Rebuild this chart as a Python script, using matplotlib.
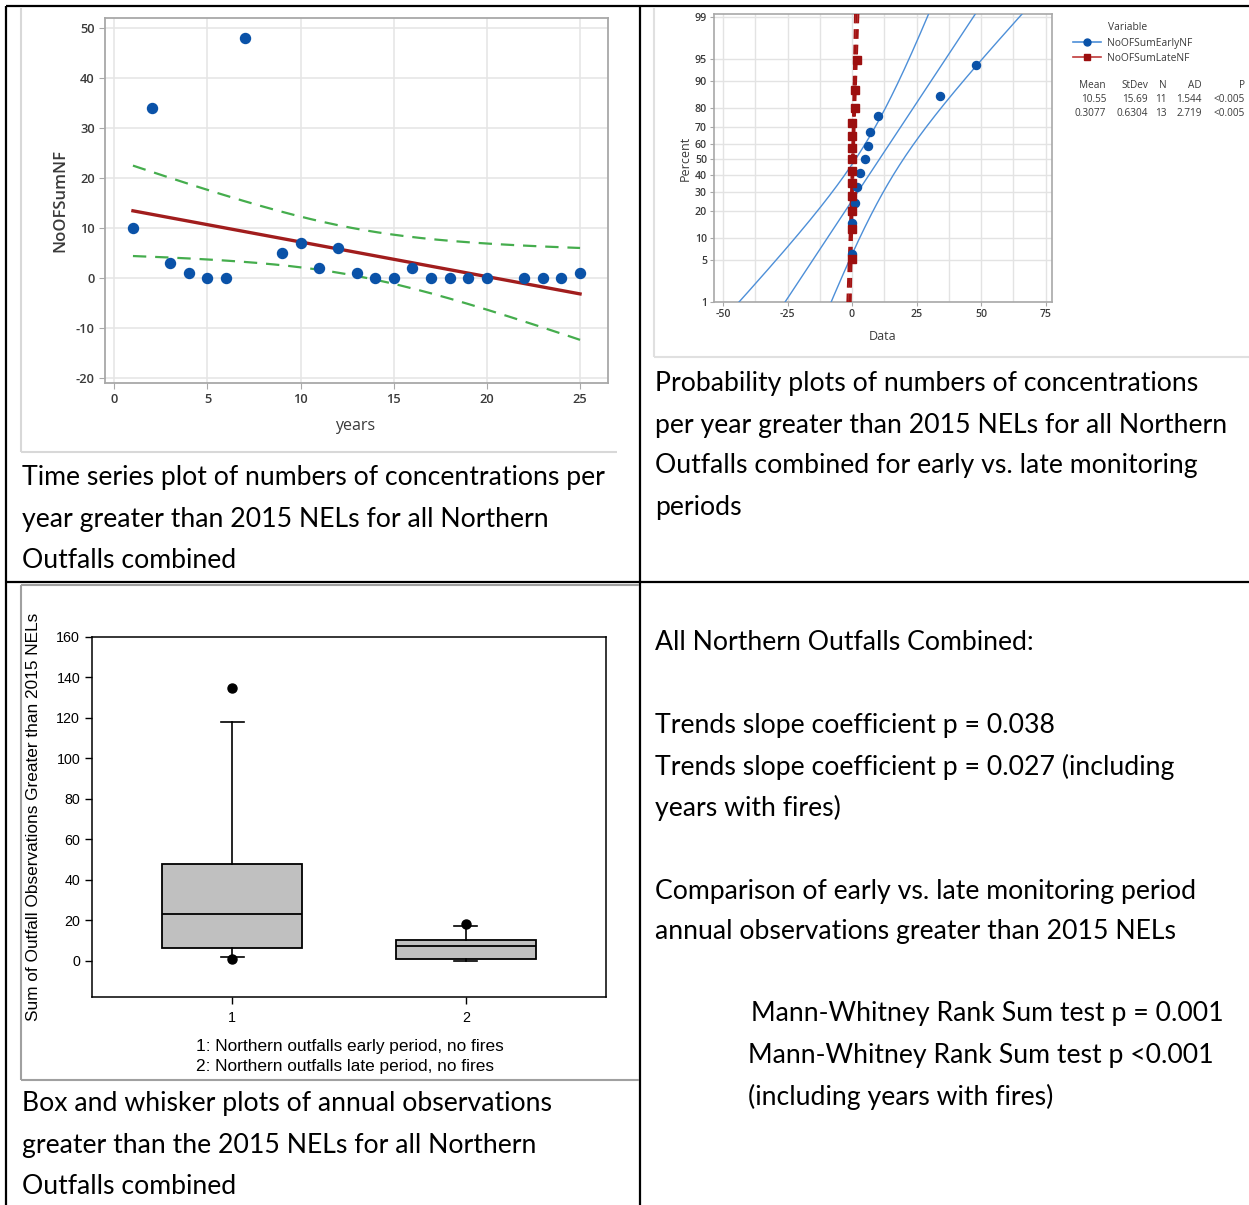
import numpy as np
import matplotlib
matplotlib.use("Agg")
import matplotlib.pyplot as plt
from matplotlib.lines import Line2D
from statistics import NormalDist

plt.rcParams["axes.unicode_minus"] = False

# ---------------- data ----------------
# annual counts above 2015 NELs, all northern outfalls (no-fire years)
years = [1, 2, 3, 4, 5, 6, 7, 9, 10, 11, 12, 13, 14, 15, 16, 17, 18, 19, 20, 22, 23, 24, 25]
no_of_sum_nf = [10, 34, 3, 1, 0, 0, 48, 5, 7, 2, 6, 1, 0, 0, 2, 0, 0, 0, 0, 0, 0, 0, 1]

# early / late monitoring periods used in the probability plot
early_nf = [10, 34, 3, 1, 0, 0, 48, 5, 7, 2, 6]
late_nf = [1, 0, 0, 2, 0, 0, 0, 0, 0, 0, 0, 0, 1]
series_names = ["NoOFSumEarlyNF", "NoOFSumLateNF"]

# summary table printed next to the probability plot
stat_cols = ["Mean", "StDev", "N", "AD", "P"]
early_stats = ["10.55", "15.69", "11", "1.544", "<0.005"]
late_stats = ["0.3077", "0.6304", "13", "2.719", "<0.005"]

# box plot summaries (sum of outfall observations above 2015 NELs)
box_labels = ["1", "2"]
box_q1 = [6, 1]
box_med = [23, 7]
box_q3 = [48, 10]
box_whislo = [2, 0]
box_whishi = [118, 17]
box_fliers = [[135, 1], [18]]

percent_ticks = [1, 5, 10, 20, 30, 40, 50, 60, 70, 80, 90, 95, 99]

# ---------------- figure helpers ----------------
W, H = 1249, 1205
fig = plt.figure(figsize=(W / 100, H / 100), dpi=100)
fig.patch.set_facecolor("white")


def fx(x):
    return x / W


def fy(y):
    return 1 - y / H


def rect(l, t, r, b):
    return [fx(l), fy(b), fx(r) - fx(l), fy(t) - fy(b)]


def seg(x0, y0, x1, y1, color="black", lw=1.6):
    fig.add_artist(Line2D([fx(x0), fx(x1)], [fy(y0), fy(y1)],
                          transform=fig.transFigure, color=color, lw=lw,
                          solid_capstyle="butt"))


CAP_FONT = ["Lato", "DejaVu Sans"]
MT_FONT = ["Open Sans", "DejaVu Sans"]
SP_FONT = ["Liberation Sans", "DejaVu Sans"]
CAP_SIZE = 19.2


def caption(x, y, s, size=CAP_SIZE):
    fig.text(fx(x), fy(y), s, family=CAP_FONT, fontsize=size,
             ha="left", va="center", color="black")


# ---------------- table rules and picture frames ----------------
seg(6, 6, W, 6)
seg(6, 6, 6, H)
seg(640, 6, 640, H)
seg(6, 582, W, 582)

seg(21, 8, 21, 452, color="#d8d8d8", lw=1.5)
seg(21, 452, 617, 452, color="#d8d8d8", lw=1.5)
seg(654, 8, 654, 357, color="#e0e0e0", lw=1.5)
seg(654, 357, W, 357, color="#e0e0e0", lw=1.5)
seg(21, 585, 21, 1080, color="#a0a0a0", lw=1.5)
seg(21, 585, 639, 585, color="#a0a0a0", lw=1.5)
seg(21, 1080, 639, 1080, color="#a0a0a0", lw=1.5)

# ---------------- time series with fitted line ----------------
ax1 = fig.add_axes(rect(105, 18, 608, 383))
x = np.array(years, float)
y = np.array(no_of_sum_nf, float)
slope, icpt = np.polyfit(x, y, 1)
n = len(x)
s_res = np.sqrt(np.sum((y - (slope * x + icpt)) ** 2) / (n - 2))
sxx = np.sum((x - x.mean()) ** 2)
t975 = 2.080  # Student t, 21 df
xf = np.linspace(x.min(), x.max(), 200)
fit = slope * xf + icpt
half = t975 * s_res * np.sqrt(1 / n + (xf - x.mean()) ** 2 / sxx)

ax1.plot(xf, fit, color="#a11d1d", lw=2.4, zorder=3)
ax1.plot(xf, fit + half, color="#45ad4d", lw=1.6, ls=(0, (6, 4)), zorder=3)
ax1.plot(xf, fit - half, color="#45ad4d", lw=1.6, ls=(0, (6, 4)), zorder=3)
ax1.plot(x, y, ls="none", marker="o", ms=7.2, color="#0a52a8", zorder=4)

ax1.set_xlim(-0.5, 26.5)
ax1.set_ylim(-21, 52)
ax1.set_xticks(range(0, 26, 5))
ax1.set_yticks(range(-20, 51, 10))
ax1.grid(True, color="#e6e6e6", lw=1.2)
ax1.set_axisbelow(True)
for sp in ax1.spines.values():
    sp.set_color("#a8a8a8")
    sp.set_linewidth(1.3)
ax1.tick_params(length=4, color="#a8a8a8", labelcolor="#3a3a3a", labelsize=9.3)
for lab in ax1.get_xticklabels() + ax1.get_yticklabels():
    lab.set_family(MT_FONT)
    lab.set_fontweight("semibold")
fig.text(fx(60), fy(200), "NoOFSumNF", rotation=90, ha="center", va="center",
         family=MT_FONT, fontsize=12, color="#3a3a3a", fontweight="semibold")
fig.text(fx(355), fy(426), "years", ha="center", va="center",
         family=MT_FONT, fontsize=11.5, color="#3a3a3a")

caption(22, 478, "Time series plot of numbers of concentrations per")
caption(22, 519, "year greater than 2015 NELs for all Northern")
caption(22, 560, "Outfalls combined")

# ---------------- normal probability plot ----------------
nd = NormalDist()


def p_to_z(p):
    p = np.clip(np.asarray(p, float), 1e-6, 100 - 1e-6)
    return np.array([nd.inv_cdf(v / 100) for v in p.ravel()]).reshape(p.shape)


def z_to_p(z):
    z = np.asarray(z, float)
    return np.array([nd.cdf(v) * 100 for v in z.ravel()]).reshape(z.shape)


ax2 = fig.add_axes(rect(714, 14, 1052, 302))
ax2.set_yscale("function", functions=(p_to_z, z_to_p))

zline = np.linspace(-2.6, 2.6, 200)
pline = z_to_p(zline)
styles = [
    dict(line="#4d8fd8", pt="#0a52a8", marker="o", ls="-", lw=1.0),
    dict(line="#a31212", pt="#9c0f0f", marker="s", ls=(0, (5, 3)), lw=1.4),
]
for vals, st in zip([early_nf, late_nf], styles):
    v = np.sort(np.array(vals, float))
    m = len(v)
    mu, sd = v.mean(), v.std(ddof=1)
    ranks = (np.arange(1, m + 1) - 0.3) / (m + 0.4) * 100
    xfit = mu + zline * sd
    hw = 1.96 * sd * np.sqrt(1 / m + zline ** 2 / (2 * m))
    for xx in (xfit, xfit - hw, xfit + hw):
        ax2.plot(xx, pline, color=st["line"], ls=st["ls"], lw=st["lw"], zorder=3)
    ax2.plot(v, ranks, ls="none", marker=st["marker"], ms=5.8,
             color=st["pt"], zorder=4)

ax2.set_xlim(-53.5, 77.5)
ax2.set_ylim(1, 99.12)
ax2.set_xticks(range(-50, 76, 25))
ax2.set_xticks(np.arange(-50, 76, 12.5), minor=True)
ax2.set_yticks(percent_ticks)
ax2.set_yticklabels([str(p) for p in percent_ticks])
ax2.yaxis.set_minor_locator(matplotlib.ticker.NullLocator())
ax2.grid(True, which="both", color="#e3e3e3", lw=1.0)
ax2.set_axisbelow(True)
for sp in ax2.spines.values():
    sp.set_color("#a8a8a8")
    sp.set_linewidth(1.2)
ax2.tick_params(which="major", length=3, color="#a8a8a8", labelcolor="#3a3a3a",
                labelsize=7.6, pad=2)
ax2.tick_params(which="minor", length=0)
for lab in ax2.get_xticklabels() + ax2.get_yticklabels():
    lab.set_family(MT_FONT)
    lab.set_fontweight("semibold")
fig.text(fx(685), fy(158), "Percent", rotation=90, ha="center", va="center",
         family=MT_FONT, fontsize=9, color="#3a3a3a")
fig.text(fx(883), fy(336), "Data", ha="center", va="center",
         family=MT_FONT, fontsize=9, color="#3a3a3a")

# legend and summary table
fig.text(fx(1108), fy(27), "Variable", ha="left", va="center",
         family=MT_FONT, fontsize=7.4, color="#3a3a3a")
handles = [
    Line2D([], [], color="#4d8fd8", lw=1.2, marker="o", ms=5, mfc="#0a52a8", mec="#0a52a8"),
    Line2D([], [], color="#c03a3a", lw=1.2, marker="s", ms=5, mfc="#9c0f0f", mec="#9c0f0f"),
]
leg = fig.legend(handles, series_names, loc="upper left",
                 bbox_to_anchor=(fx(1073), fy(38)), frameon=False,
                 prop=dict(family=MT_FONT, size=7.4), handlelength=2.7,
                 handletextpad=0.6, labelspacing=0.35, borderpad=0, borderaxespad=0)
for t in leg.get_texts():
    t.set_color("#3a3a3a")

col_right = [1106, 1148, 1167, 1202, 1245]
for row_y, row in zip([85, 100, 114], [stat_cols, early_stats, late_stats]):
    for cx, txt in zip(col_right, row):
        fig.text(fx(cx), fy(row_y), txt, ha="right", va="center",
                 family=MT_FONT, fontsize=7.2, color="#3a3a3a")

caption(655, 384, "Probability plots of numbers of concentrations")
caption(655, 425, "per year greater than 2015 NELs for all Northern")
caption(655, 466, "Outfalls combined for early vs. late monitoring")
caption(655, 507, "periods")

# ---------------- box plot ----------------
ax3 = fig.add_axes(rect(92, 637, 606, 997))
stats = [dict(label=lab, q1=a, med=b, q3=c, whislo=d, whishi=e, fliers=f)
         for lab, a, b, c, d, e, f in zip(box_labels, box_q1, box_med, box_q3,
                                          box_whislo, box_whishi, box_fliers)]
ax3.bxp(stats, positions=[1, 2], widths=0.6, capwidths=0.1, patch_artist=True,
        boxprops=dict(facecolor="#c0c0c0", edgecolor="black", lw=1.3),
        medianprops=dict(color="black", lw=1.3),
        whiskerprops=dict(color="black", lw=1.2),
        capprops=dict(color="black", lw=1.2),
        flierprops=dict(marker="o", mfc="black", mec="black", ms=6.5))
ax3.set_xlim(0.4, 2.6)
ax3.set_ylim(-18, 160)
ax3.set_yticks(range(0, 161, 20))
ax3.tick_params(axis="both", direction="out", length=5, width=1, labelsize=10.3,
                top=False, right=False)
ax3.tick_params(axis="x", pad=5)
for lab in ax3.get_xticklabels() + ax3.get_yticklabels():
    lab.set_family(SP_FONT)
for sp in ax3.spines.values():
    sp.set_linewidth(1.1)
fig.text(fx(34), fy(817), "Sum of Outfall Observations Greater than 2015 NELs",
         rotation=90, ha="center", va="center", family=SP_FONT, fontsize=12.4)
fig.text(fx(196), fy(1047), "1: Northern outfalls early period, no fires",
         ha="left", va="center", family=SP_FONT, fontsize=12.4)
fig.text(fx(196), fy(1067), "2: Northern outfalls late period, no fires",
         ha="left", va="center", family=SP_FONT, fontsize=12.4)

caption(22, 1104, "Box and whisker plots of annual observations")
caption(22, 1146, "greater than the 2015 NELs for all Northern")
caption(22, 1187, "Outfalls combined")

# ---------------- test results text ----------------
caption(655, 643, "All Northern Outfalls Combined:")
caption(655, 726, "Trends slope coefficient p = 0.038")
caption(655, 767, "Trends slope coefficient p = 0.027 (including")
caption(655, 808, "years with fires)")
caption(655, 891, "Comparison of early vs. late monitoring period")
caption(655, 932, "annual observations greater than 2015 NELs")
caption(751, 1014, "Mann-Whitney Rank Sum test p = 0.001")
caption(748, 1056, "Mann-Whitney Rank Sum test p <0.001")
caption(748, 1097, "(including years with fires)")

fig.savefig("out.png", dpi=100)
